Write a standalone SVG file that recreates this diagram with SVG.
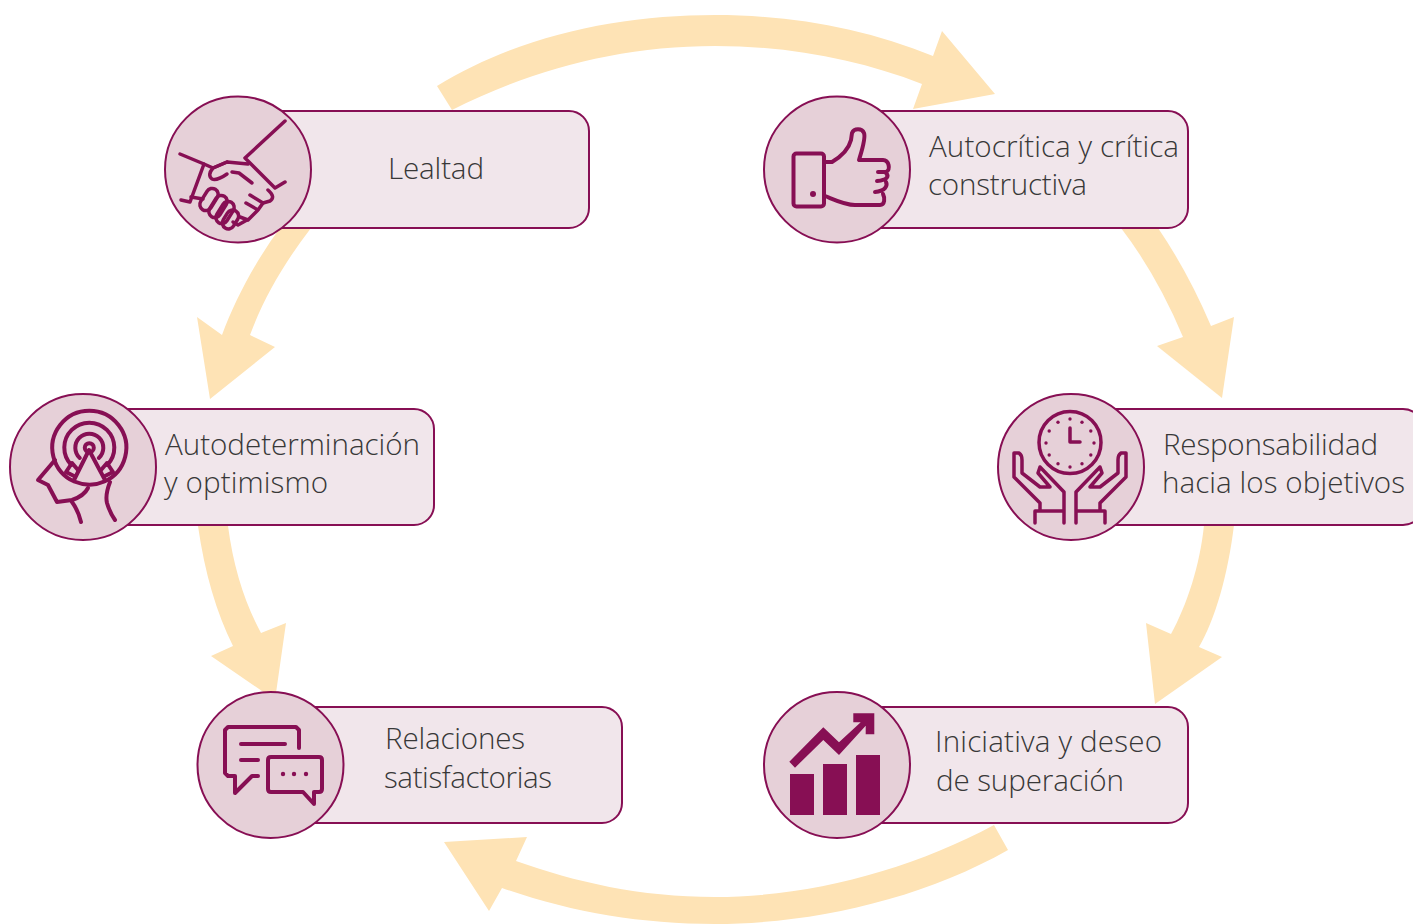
<svg xmlns="http://www.w3.org/2000/svg" width="1413" height="924" viewBox="0 0 1413 924">
<style>
.box{fill:#F1E6EB;stroke:#870F54;stroke-width:2}
.disc{fill:#E6D0D8;stroke:#870F54;stroke-width:2}
.ic{fill:none;stroke:#870F54;stroke-width:4;stroke-linecap:round;stroke-linejoin:round}
.thin{stroke-width:3.5}
.ifill{fill:#870F54;stroke:none}
.arrow{fill:#FEE3B5;stroke:none}
text{font-family:"Open Sans","Liberation Sans",sans-serif;font-weight:300;font-size:29.6px;fill:#383838}
</style>
<rect width="1413" height="924" fill="#FFFFFF"/>
<g id="connectors">
<path class="arrow" d="M437,86C520,35 620,15 715,15C790,15 865,28 933,56L942,31L995,94L913,109L922,84C860,60 790,46 715,46C620,46 530,70 452,110Z"/>
<path class="arrow" d="M280,228C255,262 235,300 222,335L197,317L210,399L275,347L250,335C265,295 285,262 311,228Z"/>
<path class="arrow" d="M1158,228Q1188,272 1211,326L1234,317L1222,398L1157,346L1183,337Q1157,275 1121,228Z"/>
<path class="arrow" d="M198,526Q208,596 233,646L211,656L275,700L286,623L261,633Q236,587 228,526Z"/>
<path class="arrow" d="M1234,525C1228,575 1215,620 1199,647L1222,657L1155,704L1146,623L1171,634C1187,605 1200,565 1204,525Z"/>
<path class="arrow" d="M1008,850C920,900 810,924 715,924C640,924 570,912 502,888L489,911L444,842L527,837L516,861C575,882 640,897 715,897C810,897 910,870 994,825Z"/>
</g>
<g id="node-lealtad">
<rect class="box" x="238" y="111" width="351" height="117" rx="20"/>
<circle class="disc" cx="238" cy="169.500" r="73"/>
<g class="ic thin">
<path d="M285,121L245,158L275,188L285,182"/>
<path d="M180,154L204,164L190,202L181,200"/>
<path d="M204,164L213,168L227,162L248,164"/>
<path d="M227,162L213,168Q207,175 212,179Q217,181 227,174"/>
<path d="M232,172L239,173L252,183"/>
<path d="M268,190Q276,197 270,201L263,203L250,195"/>
<path d="M263,203L258,210L246,203"/>
<path d="M257,211L248,220L240,217"/>
<path d="M247,220L238,225L233,222"/>
<path d="M191,197L203,199"/>
<rect x="197" y="193.500" width="24" height="12" rx="6" transform="rotate(-58 209 199.500)"/>
<rect x="206" y="200.500" width="24" height="12" rx="6" transform="rotate(-58 218 206.500)"/>
<rect x="213" y="206.500" width="24" height="12" rx="6" transform="rotate(-58 225 212.500)"/>
<rect x="220.500" y="213.500" width="20" height="12" rx="6" transform="rotate(-58 230.500 219.500)"/>
</g>
<text x="388" y="179" textLength="96">Lealtad</text>
</g>
<g id="node-autocritica">
<rect class="box" x="837" y="111" width="351" height="117" rx="20"/>
<circle class="disc" cx="837" cy="169.500" r="73"/>
<g class="ic">
<rect x="793.500" y="153.500" width="30.500" height="53" rx="3"/>
<path d="M825,162L832,162C842,156 849,148 851,140L852,133C854,128 862,128 864,133C866,138 862,150 859,160L883,160C889,160 891,170 886,172L878,172M886,173C889,176 888,180 877,181M886,182C888,186 885,191 875,192M883,194C885,198 885,205 880,205L855,205C845,205 835,200 825,196"/>
</g>
<circle class="ifill" cx="813" cy="194" r="3"/>
<text x="929" y="157" textLength="250">Autocrítica y crítica</text>
<text x="928" y="195" textLength="159">constructiva</text>
</g>
<g id="node-autodeterminacion">
<rect class="box" x="83" y="409" width="351" height="116" rx="20"/>
<circle class="disc" cx="83" cy="467" r="73"/>
<g class="ic">
<path d="M74.300,481.500A37,37 0 1 1 104.300,481.500Q90,488 74.300,481.500"/>
<path d="M71.300,465A25,25 0 1 1 107.300,465"/>
<path d="M79.800,458A14,14 0 1 1 98.800,458"/>
<circle cx="89.300" cy="447.700" r="4.500"/>
<path d="M74,480L89,450L105,480"/>
<path d="M74,476L66,472L72,463L78,470"/>
<path d="M105,476L113,472L107,463L101,470"/>
<path d="M55,460L38,480L48,485L57,502L72,500Q84,496 88,488"/>
<path d="M72,502Q78,510 81,522"/>
<path d="M110,482Q105,495 107,503Q110,513 115,520"/>
</g>
<text x="165" y="455" textLength="255">Autodeterminación</text>
<text x="164" y="493" textLength="164">y optimismo</text>
</g>
<g id="node-responsabilidad">
<rect class="box" x="1071" y="409" width="352" height="116" rx="20"/>
<circle class="disc" cx="1071" cy="467" r="73"/>
<g class="ic thin">
<circle cx="1070" cy="442.500" r="31"/>
<path d="M1070,428L1070,442L1080,442"/>
<path d="M1035,523L1035,511L1064,511M1035,511L1040,511L1040,503L1014,477L1014,453L1019,453Q1022,455 1022,460L1022,473L1040,487L1050,487L1038,473L1040,467L1064,492L1064,523"/>
<path d="M1105,523L1105,511L1076,511M1105,511L1100,511L1100,503L1126,477L1126,453L1121,453Q1118,455 1118,460L1118,473L1100,487L1090,487L1102,473L1100,467L1076,492L1076,523"/>
</g>
<g class="ifill">
<circle cx="1070" cy="419" r="1.700"/><circle cx="1082" cy="422.200" r="1.700"/><circle cx="1090.800" cy="431" r="1.700"/><circle cx="1094" cy="443" r="1.700"/><circle cx="1090.800" cy="455" r="1.700"/><circle cx="1082" cy="463.800" r="1.700"/><circle cx="1070" cy="467" r="1.700"/><circle cx="1058" cy="463.800" r="1.700"/><circle cx="1049.200" cy="455" r="1.700"/><circle cx="1046" cy="443" r="1.700"/><circle cx="1049.200" cy="431" r="1.700"/><circle cx="1058" cy="422.200" r="1.700"/>
</g>
<text x="1163" y="455" textLength="215">Responsabilidad</text>
<text x="1162" y="493" textLength="243">hacia los objetivos</text>
</g>
<g id="node-relaciones">
<rect class="box" x="271" y="707" width="351" height="116" rx="20"/>
<circle class="disc" cx="270.500" cy="765" r="73"/>
<g class="ic">
<path d="M299,748L299,730L296,727L228,727L225,730L225,773L228,776L235,776L235,793L252,776L258,776"/>
<path d="M241,744L285,744M241,760L258,760"/>
<path d="M271,757L319,757Q322,757 322,760L322,789Q322,792 319,792L314,792L314,804L303,792L271,792Q268,792 268,789L268,760Q268,757 271,757Z"/>
</g>
<g class="ifill"><circle cx="283" cy="774" r="2.200"/><circle cx="294" cy="774" r="2.200"/><circle cx="306" cy="774" r="2.200"/></g>
<text x="385" y="749" textLength="140">Relaciones</text>
<text x="384" y="788" textLength="168">satisfactorias</text>
</g>
<g id="node-iniciativa">
<rect class="box" x="837" y="707" width="351" height="116" rx="20"/>
<circle class="disc" cx="837" cy="765" r="73"/>
<g class="ifill">
<rect x="790" y="774" width="24" height="41"/>
<rect x="823" y="764" width="24" height="51"/>
<rect x="856" y="755" width="24" height="60"/>
<polygon points="789.300,761.700 823.300,727.300 839,742.300 860.700,722.300 853.300,722.300 853.300,713.300 874.300,713.300 874.300,734.300 865.700,734.300 865.700,725.700 839,755 823.300,740 795,767.700"/>
</g>
<text x="935" y="752" textLength="227">Iniciativa y deseo</text>
<text x="936" y="791" textLength="188">de superación</text>
</g>
</svg>
